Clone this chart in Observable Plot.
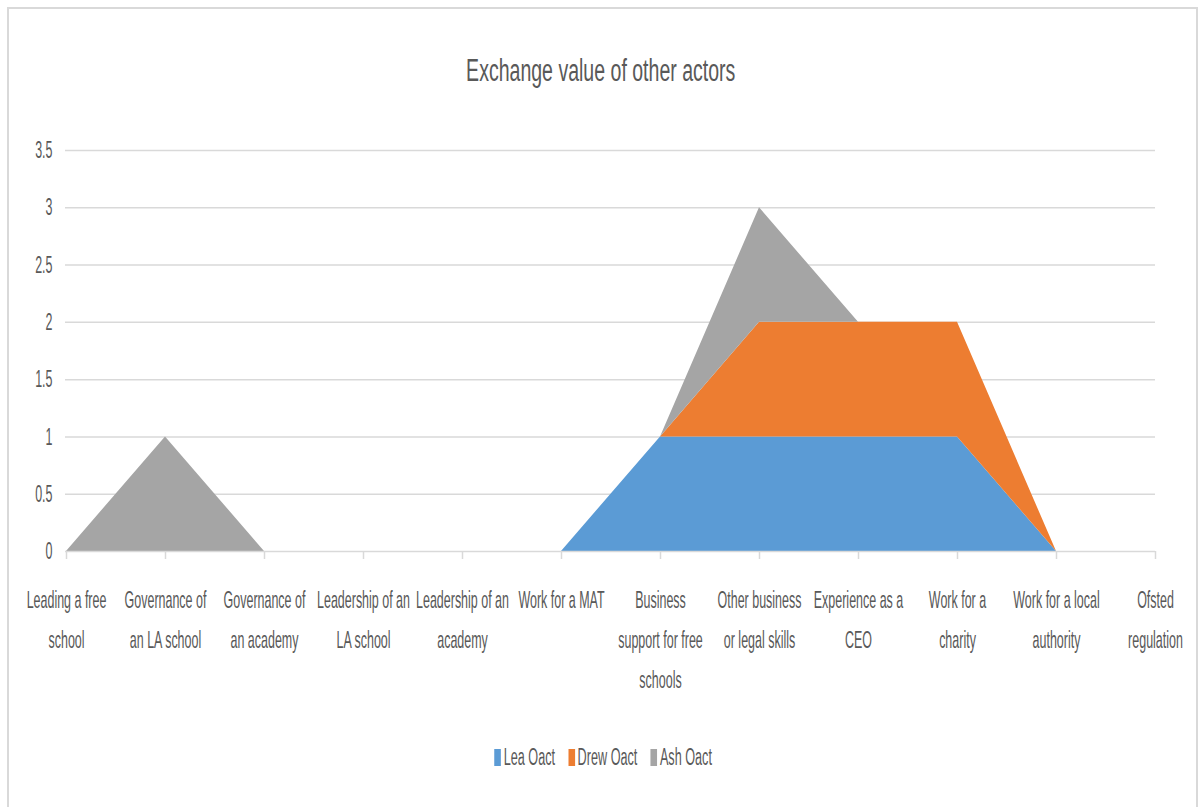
<!DOCTYPE html>
<html><head><meta charset="utf-8">
<script src="https://cdn.jsdelivr.net/npm/d3@7"></script>
<script src="https://cdn.jsdelivr.net/npm/@observablehq/plot@0.6"></script>
<style>
body{margin:0;background:#fff;}
#wrap{position:relative;width:1200px;height:807px;overflow:hidden;font-family:"Liberation Sans",Arial,sans-serif;color:#595959;background:#fff;}
#frame{position:absolute;left:7px;top:7px;width:1191px;height:830px;border:2px solid #d9d9d9;box-sizing:border-box;}
#title{position:absolute;left:0;top:53px;width:1200px;text-align:center;font-size:31px;line-height:36px;transform:scaleX(0.63);transform-origin:602px 0;white-space:nowrap;}
#chart{position:absolute;left:0;top:0;}
#legend{position:absolute;left:0;top:743px;width:1200px;display:flex;justify-content:center;align-items:center;font-size:23px;line-height:28px;transform:scaleX(0.55);transform-origin:607px 0;}
.item{display:flex;align-items:center;margin:0 12px;}
.sw{width:12px;height:17px;margin-right:5px;}
</style>
</head><body>
<div id="wrap">
  <div id="frame"></div>
  <div id="title">Exchange value of other actors</div>
  <div id="chart"></div>
  <div id="legend"></div>
</div>
<script>
const categories = ["Leading a free school","Governance of an LA school","Governance of an academy","Leadership of an LA school","Leadership of an academy","Work for a MAT","Business support for free schools","Other business or legal skills","Experience as a CEO","Work for a charity","Work for a local authority","Ofsted regulation"];
const tickLabels = ["Leading a free\nschool","Governance of\nan LA school","Governance of\nan academy","Leadership of an\nLA school","Leadership of an\nacademy","Work for a MAT","Business\nsupport for free\nschools","Other business\nor legal skills","Experience as a\nCEO","Work for a\ncharity","Work for a local\nauthority","Ofsted\nregulation"];
const seriesNames = ["Lea Oact","Drew Oact","Ash Oact"];
const colors = ["#5B9BD5","#ED7D31","#A5A5A5"];
const leaValues  = [0,0,0,0,0,0,1,1,1,1,0,0];
const drewValues = [0,0,0,0,0,0,0,1,1,1,0,0];
const ashValues  = [0,1,0,0,0,0,0,1,0,0,0,0];
const yTicks = [0,0.5,1,1.5,2,2.5,3,3.5];

const valuesBySeries = [leaValues, drewValues, ashValues];
const data = [];
seriesNames.forEach((s,i)=>categories.forEach((c,j)=>data.push({cat:c, series:s, value:valuesBySeries[i][j]})));
const labelOf = new Map(categories.map((c,i)=>[c,tickLabels[i]]));

const SX = 0.52;
const plot = Plot.plot({
  width:1200, height:700,
  marginLeft:65, marginRight:45, marginTop:150, marginBottom:149,
  style:{fontFamily:"Liberation Sans, Arial, sans-serif", fontSize:"24px", color:"#595959", background:"transparent", overflow:"visible"},
  x:{type:"point", domain:categories, padding:0},
  y:{domain:[0,3.5]},
  color:{domain:seriesNames, range:colors},
  marks:[
    Plot.ruleY(yTicks.filter(d=>d>0), {stroke:"#d9d9d9", strokeWidth:1.5}),
    Plot.areaY(data, {x:"cat", y:"value", z:"series", fill:"series", order:seriesNames, curve:"linear"}),
    Plot.ruleY([0], {stroke:"#d9d9d9", strokeWidth:1.5}),
    Plot.axisX({label:null, tickSize:8, stroke:"#d9d9d9", strokeWidth:1.5, fill:"#595959", tickPadding:20, lineHeight:1.667, tickFormat:c=>labelOf.get(c)}),
    Plot.axisY({label:null, ticks:yTicks, tickSize:0, tickPadding:13, fill:"#595959", tickFormat:d=>String(d)})
  ]
});
plot.querySelectorAll("text").forEach(t=>{
  const tr = t.getAttribute("transform") || "";
  t.setAttribute("transform", tr + ` scale(${SX},1)`);
});
document.getElementById("chart").appendChild(plot);

const legend = document.getElementById("legend");
seriesNames.forEach((s,i)=>{
  const it = document.createElement("div"); it.className="item";
  const sw = document.createElement("div"); sw.className="sw"; sw.style.background=colors[i];
  const tx = document.createElement("span"); tx.textContent=s;
  it.appendChild(sw); it.appendChild(tx); legend.appendChild(it);
});
</script>
</body></html>
